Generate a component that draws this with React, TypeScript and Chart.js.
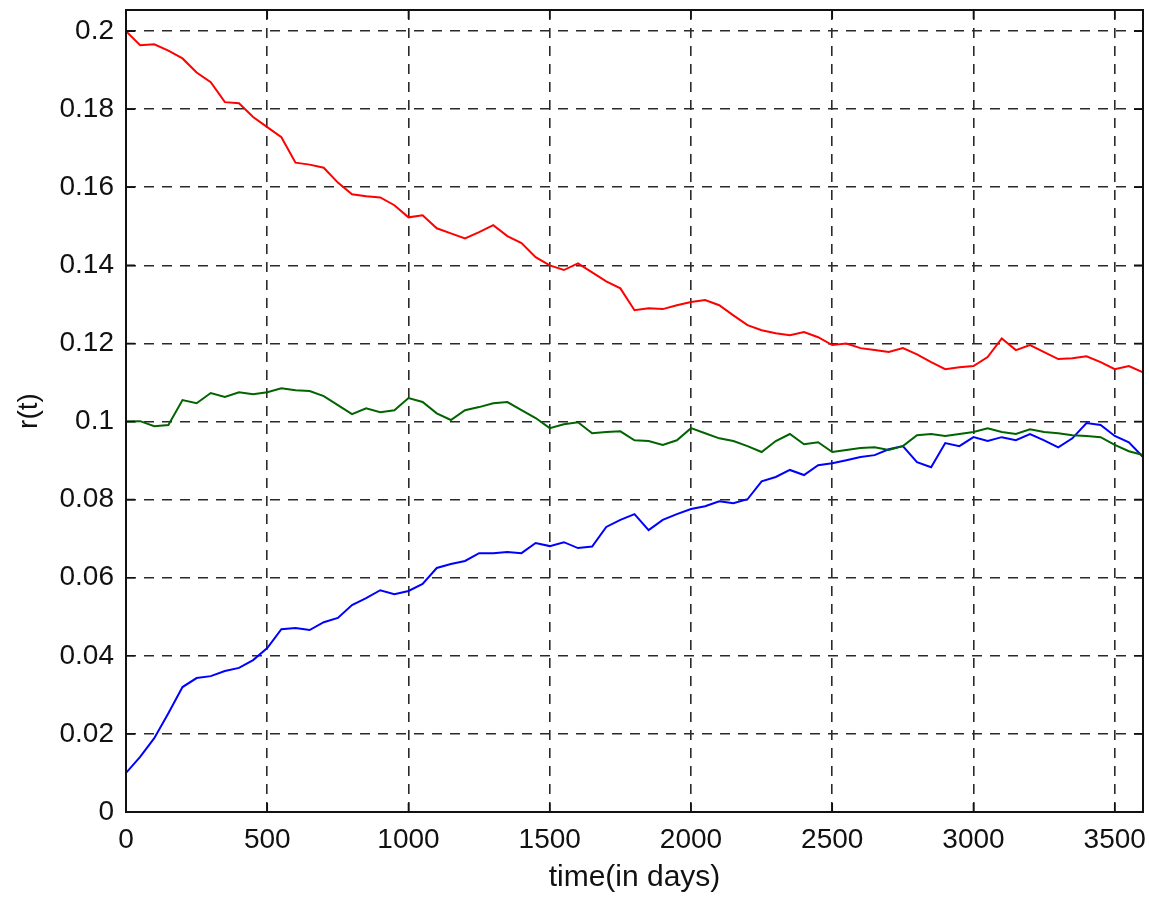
import React, { useEffect, useRef } from "react";
import { Chart, registerables } from "chart.js";

Chart.register(...registerables);

const days: number[] = [
  0, 50, 100, 150, 200, 250, 300, 350, 400, 450, 500, 550, 600, 650, 700, 750, 800, 850, 900, 950,
  1000, 1050, 1100, 1150, 1200, 1250, 1300, 1350, 1400, 1450, 1500, 1550, 1600, 1650, 1700, 1750,
  1800, 1850, 1900, 1950, 2000, 2050, 2100, 2150, 2200, 2250, 2300, 2350, 2400, 2450, 2500, 2550,
  2600, 2650, 2700, 2750, 2800, 2850, 2900, 2950, 3000, 3050, 3100, 3150, 3200, 3250, 3300, 3350,
  3400, 3450, 3500, 3550, 3600,
];

const redSeries: number[] = [
  0.2, 0.1964, 0.1966, 0.195, 0.193, 0.1894, 0.1869, 0.1818, 0.1815, 0.178, 0.1754, 0.1728,
  0.1663, 0.1658, 0.165, 0.1612, 0.1582, 0.1577, 0.1574, 0.1554, 0.1523, 0.1528, 0.1495, 0.1482,
  0.1469, 0.1485, 0.1503, 0.1475, 0.1457, 0.1421, 0.14, 0.1388, 0.1405, 0.1382, 0.1359, 0.1341,
  0.1285, 0.129, 0.1288, 0.1298, 0.1306, 0.1311, 0.1298, 0.1272, 0.1247, 0.1234, 0.1226, 0.1221,
  0.1229, 0.1216, 0.1196, 0.12, 0.1188, 0.1183, 0.1178, 0.1188, 0.1172, 0.1152, 0.1134, 0.1139,
  0.1142, 0.1165, 0.1213, 0.1183, 0.1196, 0.1178, 0.116, 0.1162, 0.1167, 0.1152, 0.1134, 0.1142,
  0.1126,
];

const greenSeries: number[] = [
  0.1, 0.1001, 0.0988, 0.0991, 0.1055, 0.1047, 0.1073, 0.1063, 0.1075, 0.107, 0.1075, 0.1085,
  0.108, 0.1078, 0.1065, 0.1042, 0.1019, 0.1034, 0.1024, 0.1029, 0.106, 0.105, 0.1021, 0.1004,
  0.1029, 0.1037, 0.1047, 0.105, 0.1029, 0.1009, 0.0983, 0.0993, 0.0998, 0.097, 0.0973, 0.0975,
  0.0952, 0.095, 0.094, 0.0952, 0.0983, 0.097, 0.0957, 0.095, 0.0937, 0.0922, 0.095, 0.0968,
  0.0942, 0.0947, 0.0922, 0.0927, 0.0932, 0.0934, 0.0927, 0.0937, 0.0965, 0.0968, 0.0963, 0.0968,
  0.0973, 0.0983, 0.0973, 0.0968, 0.098, 0.0973, 0.097, 0.0965, 0.0963, 0.096, 0.094, 0.0924,
  0.0914,
];

const blueSeries: number[] = [
  0.01, 0.0141, 0.0189, 0.0253, 0.032, 0.0343, 0.0348, 0.0361, 0.0369, 0.0389, 0.042, 0.0468,
  0.0471, 0.0466, 0.0486, 0.0497, 0.053, 0.0548, 0.0568, 0.0558, 0.0566, 0.0584, 0.0625, 0.0635,
  0.0643, 0.0663, 0.0663, 0.0666, 0.0663, 0.0689, 0.0681, 0.0691, 0.0676, 0.068, 0.073, 0.0748,
  0.0763, 0.0722, 0.0748, 0.0763, 0.0776, 0.0783, 0.0796, 0.0791, 0.0801, 0.0847, 0.0858, 0.0876,
  0.0863, 0.0888, 0.0893, 0.0901, 0.0909, 0.0914, 0.0929, 0.0937, 0.0896, 0.0883, 0.0945, 0.0937,
  0.096, 0.095, 0.096, 0.0952, 0.0968, 0.0952, 0.0934, 0.0957, 0.0996, 0.0991, 0.0963, 0.0947,
  0.0909,
];

const xTicks: number[] = [0, 500, 1000, 1500, 2000, 2500, 3000, 3500];
const yTicks: number[] = [0, 0.02, 0.04, 0.06, 0.08, 0.1, 0.12, 0.14, 0.16, 0.18, 0.2];
const xTitle = "time(in days)";
const yTitle = "r(t)";

const FONT = "'Liberation Sans', Arial, sans-serif";
const INK = "#111111";

const boxPlugin = {
  id: "matlabBox",
  afterDatasetsDraw(chart: any) {
    const { ctx, chartArea } = chart;
    const { left, right, top, bottom } = chartArea;
    const xs = chart.scales.x;
    const ys = chart.scales.y;
    const tl = 9;
    ctx.save();
    ctx.strokeStyle = INK;
    ctx.lineWidth = 1.6;
    ctx.setLineDash([]);
    ctx.beginPath();
    xTicks.forEach((v) => {
      const px = xs.getPixelForValue(v);
      ctx.moveTo(px, bottom);
      ctx.lineTo(px, bottom - tl);
      ctx.moveTo(px, top);
      ctx.lineTo(px, top + tl);
    });
    yTicks.forEach((v) => {
      const py = ys.getPixelForValue(v);
      ctx.moveTo(left, py);
      ctx.lineTo(left + tl, py);
      ctx.moveTo(right, py);
      ctx.lineTo(right - tl, py);
    });
    ctx.stroke();
    ctx.lineWidth = 2;
    ctx.strokeRect(left, top, right - left, bottom - top);
    ctx.restore();
  },
};

export default function App() {
  const canvasRef = useRef<HTMLCanvasElement | null>(null);

  useEffect(() => {
    if (!canvasRef.current) return;
    const mk = (vals: number[]) => days.map((d, i) => ({ x: d, y: vals[i] }));
    const chart = new Chart(canvasRef.current, {
      type: "line",
      data: {
        datasets: [
          { label: "r1", data: mk(redSeries), borderColor: "#ff0000", borderWidth: 2, pointRadius: 0, tension: 0 },
          { label: "r2", data: mk(greenSeries), borderColor: "#006400", borderWidth: 2, pointRadius: 0, tension: 0 },
          { label: "r3", data: mk(blueSeries), borderColor: "#0000ff", borderWidth: 2, pointRadius: 0, tension: 0 },
        ],
      },
      options: {
        animation: false,
        responsive: false,
        maintainAspectRatio: false,
        events: [],
        layout: { padding: { left: 0, right: 6, top: 10, bottom: 0 } },
        plugins: { legend: { display: false }, tooltip: { enabled: false } },
        scales: {
          x: {
            type: "linear",
            min: 0,
            max: 3600,
            afterFit: (s: any) => {
              s.height = 86;
              s.paddingLeft = 0;
              s.paddingRight = 0;
            },
            afterBuildTicks: (s: any) => {
              s.ticks = xTicks.map((v) => ({ value: v }));
            },
            ticks: {
              includeBounds: false,
              autoSkip: false,
              maxRotation: 0,
              padding: 11,
              color: INK,
              font: { family: FONT, size: 28 },
              callback: (v: any) => String(v),
            },
            grid: { color: "#2a2a2a", lineWidth: 1.6, drawTicks: false, tickLength: 0 },
            border: { display: false, dash: [10, 8] },
            title: {
              display: true,
              text: xTitle,
              color: INK,
              font: { family: FONT, size: 30 },
              padding: { top: 0, bottom: 2 },
            },
          },
          y: {
            type: "linear",
            min: 0,
            max: 0.2054,
            afterFit: (s: any) => {
              s.width = 126;
              s.paddingTop = 0;
              s.paddingBottom = 0;
            },
            afterBuildTicks: (s: any) => {
              s.ticks = yTicks.map((v) => ({ value: v }));
            },
            ticks: {
              includeBounds: false,
              autoSkip: false,
              padding: 12,
              color: INK,
              font: { family: FONT, size: 28 },
              callback: (v: any) => String(Number(Number(v).toFixed(2))),
            },
            grid: { color: "#2a2a2a", lineWidth: 1.6, drawTicks: false, tickLength: 0 },
            border: { display: false, dash: [10, 8] },
            title: {
              display: true,
              text: yTitle,
              color: INK,
              font: { family: FONT, size: 28 },
              padding: { top: 12, bottom: 0 },
            },
          },
        },
      },
      plugins: [boxPlugin],
    });
    return () => chart.destroy();
  }, []);

  return (
    <div style={{ position: "fixed", left: 0, top: 0, width: 1149, height: 898, background: "#fff" }}>
      <canvas ref={canvasRef} width={1149} height={898} style={{ display: "block", width: 1149, height: 898 }} />
    </div>
  );
}
